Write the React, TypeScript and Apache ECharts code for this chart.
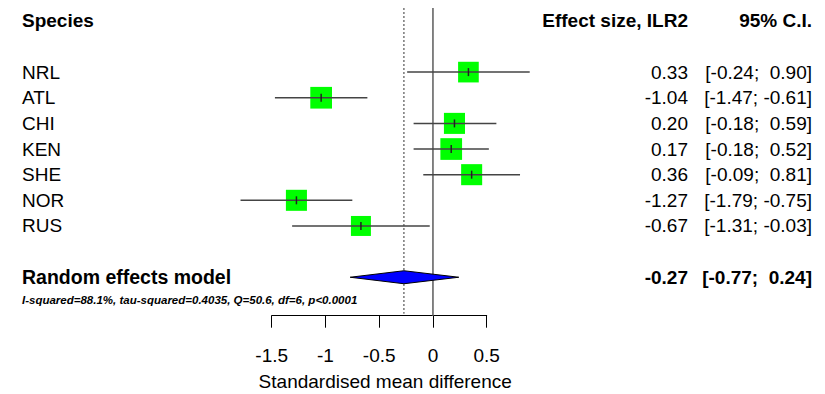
import React, { useEffect, useRef } from "react";
import * as echarts from "echarts";

// ---- data ----
const species = ["NRL", "ATL", "CHI", "KEN", "SHE", "NOR", "RUS"];
const estimates = [0.33, -1.04, 0.2, 0.17, 0.36, -1.27, -0.67];
const lowerCI = [-0.24, -1.47, -0.18, -0.18, -0.09, -1.79, -1.31];
const upperCI = [0.9, -0.61, 0.59, 0.52, 0.81, -0.75, -0.03];
const weights = [13.8, 15.2, 14.3, 15.2, 14.3, 14.3, 12.9];
const pooledLabel = "Random effects model";
const pooledEstimate = -0.27;
const pooledLower = -0.77;
const pooledUpper = 0.24;
const statsText = "I-squared=88.1%, tau-squared=0.4035, Q=50.6, df=6, p<0.0001";
const headers = ["Species", "Effect size, ILR2", "95% C.I."];
const xTicks = [-1.5, -1, -0.5, 0, 0.5];
const xTitle = "Standardised mean difference";

const FONT = "'Liberation Sans', Arial, Helvetica, sans-serif";
const FS = 19;
const LABEL_X = 22;
const EST_RIGHT = 688;
const CI_RIGHT = 812;
const POOLED_ROW = 9;
const HEADER_ROW = -1;
const Y_MIN = -1.5;
const Y_MAX = 10.5;

const fmt = (v: number) => (v < 0 ? "" : " ") + v.toFixed(2);
const fmtCI = (lo: number, hi: number) => "[" + fmt(lo).trimStart() + "; " + fmt(hi) + "]";

export default function App() {
  const ref = useRef<HTMLDivElement>(null);
  useEffect(() => {
    document.body.style.margin = "0";
    if (!ref.current) return;
    const chart = echarts.init(ref.current, null, { renderer: "svg" });
    const maxW = Math.max(...weights);

    const textStyle = (
      text: string,
      x: number,
      y: number,
      align: string,
      bold: boolean,
      size = FS,
      italic = false
    ) => ({
      type: "text",
      style: {
        text,
        x,
        y,
        textAlign: align,
        textVerticalAlign: "middle",
        fontSize: size,
        fontFamily: FONT,
        fontWeight: bold ? "bold" : "normal",
        fontStyle: italic ? "italic" : "normal",
        fill: "#000",
      },
    });

    const option: any = {
      animation: false,
      grid: { left: 271.7, width: 215, top: 8, height: 307.7, outerBoundsMode: "none", containLabel: false },
      xAxis: {
        type: "value",
        position: "bottom",
        min: xTicks[0],
        max: xTicks[xTicks.length - 1],
        interval: 0.5,
        name: xTitle,
        nameLocation: "middle",
        nameGap: 56,
        nameTextStyle: { fontSize: FS, fontFamily: FONT, color: "#000", padding: [0, 0, 0, 12] },
        axisLine: { show: true, onZero: false, lineStyle: { color: "#000", width: 1 } },
        axisTick: { show: true, length: 12, lineStyle: { color: "#000", width: 1 } },
        axisLabel: { fontSize: FS, fontFamily: FONT, color: "#000", margin: 30 },
        splitLine: { show: false },
      },
      yAxis: { type: "value", min: Y_MIN, max: Y_MAX, inverse: true, show: false },
      series: [
        // reference lines (zero and pooled estimate)
        {
          type: "custom",
          clip: false,
          data: [
            [0, 0],
            [pooledEstimate, 1],
          ],
          renderItem: (params: any, api: any) => {
            const x = api.value(0);
            const dotted = api.value(1) === 1;
            const p1 = api.coord([x, Y_MIN]);
            const p2 = api.coord([x, Y_MAX]);
            return {
              type: "line",
              shape: { x1: p1[0], y1: p1[1], x2: p2[0], y2: dotted ? p2[1] - 2 : p2[1] },
              style: dotted
                ? { stroke: "#333", lineWidth: 1, lineDash: [2, 2] }
                : { stroke: "#666", lineWidth: 1.6 },
            };
          },
        },
        // study rows
        {
          type: "custom",
          clip: false,
          data: species.map((s, i) => [i + 1, estimates[i], lowerCI[i], upperCI[i], weights[i]]),
          renderItem: (params: any, api: any) => {
            const i = params.dataIndex;
            const row = api.value(0);
            const est = api.value(1);
            const lo = api.value(2);
            const hi = api.value(3);
            const w = api.value(4);
            const pLo = api.coord([lo, row]);
            const pHi = api.coord([hi, row]);
            const pE = api.coord([est, row]);
            const size = 21.7 * Math.sqrt(w / maxW);
            return {
              type: "group",
              children: [
                {
                  type: "rect",
                  shape: { x: pE[0] - size / 2, y: pE[1] - size / 2, width: size, height: size },
                  style: { fill: "#00FF00" },
                },
                {
                  type: "line",
                  shape: { x1: pLo[0], y1: pLo[1], x2: pHi[0], y2: pHi[1] },
                  style: { stroke: "#444", lineWidth: 1.5 },
                },
                {
                  type: "line",
                  shape: { x1: pE[0], y1: pE[1] - 4, x2: pE[0], y2: pE[1] + 4 },
                  style: { stroke: "#222", lineWidth: 1.5 },
                },
                textStyle(species[i], LABEL_X, pE[1], "left", false),
                textStyle(est.toFixed(2), EST_RIGHT, pE[1], "right", false),
                textStyle(fmtCI(lo, hi), CI_RIGHT, pE[1], "right", false),
              ],
            };
          },
        },
        // pooled diamond + texts
        {
          type: "custom",
          clip: false,
          data: [[POOLED_ROW, pooledEstimate, pooledLower, pooledUpper]],
          renderItem: (params: any, api: any) => {
            const row = api.value(0);
            const est = api.value(1);
            const lo = api.value(2);
            const hi = api.value(3);
            const pLo = api.coord([lo, row]);
            const pHi = api.coord([hi, row]);
            const pE = api.coord([est, row]);
            const h = 6.5;
            const yStats = api.coord([0, row + 0.9])[1];
            return {
              type: "group",
              children: [
                {
                  type: "polygon",
                  shape: {
                    points: [
                      [pLo[0], pLo[1]],
                      [pE[0], pE[1] - h],
                      [pHi[0], pHi[1]],
                      [pE[0], pE[1] + h],
                    ],
                  },
                  style: { fill: "#0000FF", stroke: "#000", lineWidth: 1 },
                },
                textStyle(pooledLabel, LABEL_X, pE[1], "left", true, 19.5),
                textStyle(est.toFixed(2), EST_RIGHT, pE[1], "right", true),
                textStyle(fmtCI(lo, hi), CI_RIGHT, pE[1], "right", true),
                textStyle(statsText, LABEL_X, yStats, "left", true, 11.5, true),
              ],
            };
          },
        },
        // header row
        {
          type: "custom",
          clip: false,
          data: [[HEADER_ROW]],
          renderItem: (params: any, api: any) => {
            const y = api.coord([0, api.value(0)])[1];
            return {
              type: "group",
              children: [
                textStyle(headers[0], LABEL_X, y, "left", true),
                textStyle(headers[1], EST_RIGHT, y, "right", true),
                textStyle(headers[2], CI_RIGHT, y, "right", true),
              ],
            };
          },
        },
      ],
    };
    chart.setOption(option);
    return () => chart.dispose();
  }, []);
  return <div ref={ref} style={{ width: 825, height: 394 }} />;
}
